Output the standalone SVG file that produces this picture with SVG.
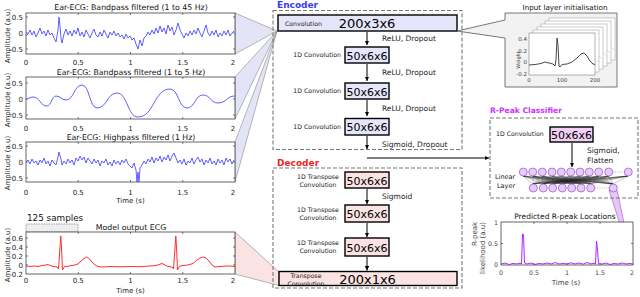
<svg xmlns="http://www.w3.org/2000/svg" width="640" height="297" viewBox="0 0 640 297">
<style>
text{font-family:'DejaVu Sans','Liberation Sans',sans-serif}
.ax{fill:#fff;stroke:#262626;stroke-width:0.7}
.tk{fill:none;stroke:#262626;stroke-width:0.6}
.tl{font-size:7px;fill:#262626}
.r{text-anchor:end}
.m{text-anchor:middle}
.ttl{font-size:7.8px;fill:#111;text-anchor:middle}
.blue{fill:none;stroke:#4d4dff;stroke-width:0.9;stroke-linejoin:round}
.red{fill:none;stroke:#ff3030;stroke-width:1;stroke-linejoin:round}
.pur{fill:none;stroke:#b026ff;stroke-width:1;stroke-linejoin:round}
.dash{fill:none;stroke:#777;stroke-width:1.1;stroke-dasharray:4 2}
.enc{fill:#e6e6fa;stroke:#000;stroke-width:1.4}
.dec{fill:#fbe3e3;stroke:#000;stroke-width:1.4}
.cls{fill:#f2d0f5;stroke:#000;stroke-width:1.4}
.big{font-size:13px;fill:#000;text-anchor:middle}
.mid{font-size:11px;fill:#000;text-anchor:middle}
.sm{font-size:6.2px;fill:#222}
.act{font-size:7.5px;fill:#222}
.arr{stroke:#000;stroke-width:1;fill:none;marker-end:url(#ah)}
.neu{fill:#e6cdf6;stroke:#9a4fd0;stroke-width:0.7}
.fanb{fill:#e4e4f7;stroke:#888;stroke-width:0.6}
.fanr{fill:#fbe3e3;stroke:#888;stroke-width:0.6}
.fanp{fill:#e8c6f5;stroke:#a050c8;stroke-width:0.6}
.fr{fill:#fff;stroke:#999;stroke-width:0.5}
</style>
<defs>
<marker id="ah" viewBox="0 0 10 10" refX="10" refY="5" markerWidth="4.5" markerHeight="4.5" orient="auto" markerUnits="userSpaceOnUse"><path d="M0,0L10,5L0,10z" fill="#000"/></marker>
<path id="kern" d="M529,65L535,64.5L541,63.5L545,62L549,63L553,64L555,66L556,60L557,38L558,45L559,66L560,67L562,64.5L567,64L572,62L577,58L581,54L584,53L587,56L590,61L593,64L595,64.5"/>
</defs>

<g id="connectors">
<polygon class="fanb" points="235,13 277,31 235,54"/>
<polygon class="fanb" points="235,77 277,31 235,119"/>
<polygon class="fanb" points="235,142 277,31 235,182"/>
<polygon class="fanr" points="235,232 279,272 279,285.5 235,274"/>
<line class="arr" x1="367" y1="32" x2="367" y2="45"/>
<line class="arr" x1="367" y1="64" x2="367" y2="81"/>
<line class="arr" x1="367" y1="100" x2="367" y2="116"/>
<line class="arr" x1="367" y1="136" x2="367" y2="149"/>
<line class="arr" x1="367" y1="158" x2="489" y2="158"/>
<line class="arr" x1="367" y1="189" x2="367" y2="204"/>
<line class="arr" x1="367" y1="223" x2="367" y2="237"/>
<line class="arr" x1="367" y1="257" x2="367" y2="270.5"/>
<line class="arr" x1="572" y1="143" x2="572" y2="167"/>
<polygon class="fanp" points="609,190 617,190 633,265"/>
</g>

<g id="plot1">
<text class="ttl" x="131" y="10">Ear-ECG: Bandpass filtered (1 to 45 Hz)</text>
<rect class="ax" x="26" y="13" width="209" height="41"/>
<path class="tk" d="M78.25,54v-2M130.5,54v-2M182.75,54v-2M78.25,13v2M130.5,13v2M182.75,13v2M26,17h2M26,33h2M26,49h2M235,17h-2M235,33h-2M235,49h-2"/>
<polyline class="blue" points="26,36 28,34 30,30 32,35 34,31 36,37 38,33 40,28 42,34 44,31 46,36 48,30 50,35 52,33 54,38 56,42 58,30 59,17 60,26 61,38 62,43 64,34 66,29 68,35 70,31 72,36 74,30 76,34 78,28 80,36 82,32 84,37 86,30 88,34 90,38 92,33 94,29 96,35 98,37 100,32 102,36 104,30 106,34 108,38 110,32 112,35 114,31 116,36 118,33 120,37 122,35 124,39 126,34 128,38 130,36 132,40 134,38 136,44 138,49 140,40 142,46 144,38 146,36 148,32 150,35 152,30 154,34 156,28 158,33 160,26 162,32 164,28 166,34 168,25 170,31 172,27 174,35 176,30 178,23 180,30 182,34 184,38 186,33 188,36 190,31 192,35 194,30 196,34 198,28 200,33 202,37 204,31 206,25 208,33 210,36 212,31 214,35 216,30 218,37 220,33 222,36 224,31 226,35 228,30 230,36 232,33 234,31"/>
<text class="tl r" x="23" y="19.5">0.5</text>
<text class="tl r" x="23" y="35.5">0</text>
<text class="tl r" x="23" y="51.5">-0.5</text>
<text class="tl m" x="26" y="64.5">0</text>
<text class="tl m" x="78.25" y="64.5">0.5</text>
<text class="tl m" x="130.5" y="64.5">1</text>
<text class="tl m" x="182.75" y="64.5">1.5</text>
<text class="tl m" x="233" y="64.5">2</text>
<text class="tl m" transform="translate(9.5,36) rotate(-90)">Amplitude (a.u)</text>
</g>

<g id="plot2">
<text class="ttl" x="131" y="75">Ear-ECG: Bandpass filtered (1 to 5 Hz)</text>
<rect class="ax" x="26" y="77" width="209" height="42"/>
<path class="tk" d="M78.25,119v-2M130.5,119v-2M182.75,119v-2M78.25,77v2M130.5,77v2M182.75,77v2M26,83h2M26,99h2M26,115h2M235,83h-2M235,99h-2M235,115h-2"/>
<path class="blue" d="M26,99C29.5,99 29.5,97 33,97C40,97 40,106 47,106C51.5,106 51.5,96 56,96C61,96 61,100 66,100C74,100 74,85 82,85C89.5,85 89.5,108 97,108C107,108 107,93 117,93C127.5,93 127.5,117 138,117C154,117 154,89 170,89C178.5,89 178.5,108 187,108C195,108 195,95 203,95C210.5,95 210.5,103 218,103C226.5,103 226.5,96 235,96"/>
<text class="tl r" x="23" y="85.5">0.5</text>
<text class="tl r" x="23" y="101.5">0</text>
<text class="tl r" x="23" y="117.5">-0.5</text>
<text class="tl m" x="26" y="130.5">0</text>
<text class="tl m" x="78.25" y="130.5">0.5</text>
<text class="tl m" x="130.5" y="130.5">1</text>
<text class="tl m" x="182.75" y="130.5">1.5</text>
<text class="tl m" x="233" y="130.5">2</text>
<text class="tl m" transform="translate(9.5,100) rotate(-90)">Amplitude (a.u)</text>
</g>

<g id="plot3">
<text class="ttl" x="131" y="140">Ear-ECG: Highpass filtered (1 Hz)</text>
<rect class="ax" x="26" y="142" width="209" height="40"/>
<path class="tk" d="M78.25,182v-2M130.5,182v-2M182.75,182v-2M78.25,142v2M130.5,142v2M182.75,142v2M26,146h2M26,162h2M26,178h2M235,146h-2M235,162h-2M235,178h-2"/>
<polyline class="blue" points="26,162 28,160 30,164 32,159 34,163 36,161 38,165 40,160 42,163 44,158 46,164 48,161 50,166 52,160 54,163 56,165 58,157 59,152 60,156 61,159 62,165 64,161 66,164 68,159 70,163 72,160 74,165 76,158 78,161 80,156 82,160 84,157 86,163 88,158 90,161 92,164 94,159 96,163 98,160 100,166 102,161 104,163 106,159 108,165 110,162 112,166 114,160 116,164 118,161 120,165 122,160 124,163 126,159 128,164 130,166 132,168 134,163 136,170 137,182 138,172 139,182 140,168 142,165 144,161 146,164 148,159 150,162 152,157 154,163 156,158 158,161 160,156 162,162 164,157 166,160 168,155 170,161 172,156 174,153 176,158 178,163 180,160 182,164 184,159 186,165 188,161 190,163 192,158 194,164 196,160 198,157 200,162 202,159 204,165 206,160 208,163 210,158 212,164 214,161 216,165 218,159 220,163 222,160 224,165 226,158 228,162 230,159 232,164 234,160"/>
<text class="tl r" x="23" y="148.5">0.5</text>
<text class="tl r" x="23" y="164.5">0</text>
<text class="tl r" x="23" y="180.5">-0.5</text>
<text class="tl m" x="26" y="194.5">0</text>
<text class="tl m" x="78.25" y="194.5">0.5</text>
<text class="tl m" x="130.5" y="194.5">1</text>
<text class="tl m" x="182.75" y="194.5">1.5</text>
<text class="tl m" x="233" y="194.5">2</text>
<text class="tl m" x="130.5" y="202.5">Time (s)</text>
<text class="tl m" transform="translate(9.5,163) rotate(-90)">Amplitude (a.u)</text>
</g>

<g id="plot4">
<text x="27" y="220.5" style="font-size:8.8px;fill:#111">125 samples</text>
<rect x="26" y="224" width="52" height="8" fill="#eee" stroke="#666" stroke-width="0.6" stroke-dasharray="1.5 1"/>
<text class="ttl" x="131" y="230">Model output ECG</text>
<rect class="ax" x="26" y="232" width="209" height="42"/>
<path class="tk" d="M78.25,274v-2M130.5,274v-2M182.75,274v-2M78.25,232v2M130.5,232v2M182.75,232v2M26,238h2M26,247h2M26,256h2M26,265h2M235,238h-2M235,247h-2M235,256h-2M235,265h-2"/>
<polyline class="red" points="26,266 30,266.5 34,266 38,266.5 42,265.5 46,265 48,264.5 50,265.5 54,266.5 57,267 58.5,269 60,247 60.8,236 61.6,250 62.5,270 63.5,268 65,266 67,266.5 69,266 72,265.5 75,265 78,264 81,261 84,258.5 86.5,257 89,258.5 92,262 95,265 98,266.5 102,267 110,266.5 120,266.8 130,266.5 140,266.7 150,266 156,265.5 159,264.5 162,263.5 165,265 168,266.5 172,267 173.5,269 175,248 175.8,236 176.6,249 177.5,270 178.5,268 180,266 183,265.5 188,265 193,263.5 197,260 200,258 203,257 206,258 209,261 212,265 215,267 220,266.5 226,266 230,266 235,266.5"/>
<text class="tl r" x="23" y="240.5">0.6</text>
<text class="tl r" x="23" y="249.5">0.4</text>
<text class="tl r" x="23" y="258.5">0.2</text>
<text class="tl r" x="23" y="267.5">0</text>
<text class="tl r" x="23" y="276.5">-0.2</text>
<text class="tl m" x="26" y="283">0</text>
<text class="tl m" x="78.25" y="283">0.5</text>
<text class="tl m" x="130.5" y="283">1</text>
<text class="tl m" x="182.75" y="283">1.5</text>
<text class="tl m" x="233" y="283">2</text>
<text class="tl m" x="130.5" y="293">Time (s)</text>
<text class="tl m" transform="translate(9.5,255) rotate(-90)">Amplitude (a.u)</text>
</g>

<g id="encoder">
<text x="277" y="8" style="font-size:9px;font-weight:bold;fill:#3a3af0">Encoder</text>
<rect class="dash" x="273" y="10.5" width="189" height="139"/>
<rect class="enc" x="278" y="15" width="179" height="16"/>
<text class="sm" x="285" y="25.5">Convolution</text>
<text class="big" x="367" y="28">200x3x6</text>
<text class="act" x="382" y="40.5">ReLU, Dropout</text>
<rect class="enc" x="345" y="47" width="44" height="16"/>
<text class="mid" x="367" y="59.5">50x6x6</text>
<text class="sm r" x="341" y="57">1D Convolution</text>
<text class="act" x="382" y="75">ReLU, Dropout</text>
<rect class="enc" x="345" y="83" width="44" height="16"/>
<text class="mid" x="367" y="95.5">50x6x6</text>
<text class="sm r" x="341" y="93">1D Convolution</text>
<text class="act" x="382" y="111">ReLU, Dropout</text>
<rect class="enc" x="345" y="118.5" width="44" height="16.5"/>
<text class="mid" x="367" y="131">50x6x6</text>
<text class="sm r" x="341" y="129">1D Convolution</text>
<text class="act" x="382" y="147">Sigmoid, Dropout</text>
</g>

<g id="decoder">
<text x="277" y="166" style="font-size:9px;font-weight:bold;fill:#ee2222">Decoder</text>
<rect class="dash" x="273" y="168" width="189" height="120"/>
<rect class="dec" x="345" y="172" width="44" height="16"/>
<text class="mid" x="367" y="184.5">50x6x6</text>
<text class="sm m" x="318" y="178.5">1D Transpose</text>
<text class="sm m" x="318" y="186.5">Convolution</text>
<text class="act" x="382" y="199">Sigmoid</text>
<rect class="dec" x="345" y="205" width="44" height="17"/>
<text class="mid" x="367" y="218">50x6x6</text>
<text class="sm m" x="318" y="212">1D Transpose</text>
<text class="sm m" x="318" y="220">Convolution</text>
<rect class="dec" x="345" y="238" width="44" height="18"/>
<text class="mid" x="367" y="251.5">50x6x6</text>
<text class="sm m" x="318" y="245">1D Transpose</text>
<text class="sm m" x="318" y="253">Convolution</text>
<rect class="dec" x="279" y="271.5" width="178" height="14"/>
<text class="sm m" x="306" y="278">Transpose</text>
<text class="sm m" x="306" y="286">Convolution</text>
<text class="big" x="367.5" y="284">200x1x6</text>
</g>

<g id="input-init">
<text x="565" y="9.5" style="font-size:7.2px;fill:#111;text-anchor:middle">Input layer initialisation</text>
<path d="M505,13H617V87H505V38L457,31L505,20Z" fill="#f2f2f2" stroke="#555" stroke-width="0.8"/>
<rect class="fr" x="549" y="18" width="66" height="42"/>
<use href="#kern" transform="translate(20,-15)" fill="none" stroke="#ccc" stroke-width="0.5"/>
<rect class="fr" x="545" y="21" width="66" height="42"/>
<use href="#kern" transform="translate(16,-12)" fill="none" stroke="#ccc" stroke-width="0.5"/>
<rect class="fr" x="541" y="24" width="66" height="42"/>
<use href="#kern" transform="translate(12,-9)" fill="none" stroke="#ccc" stroke-width="0.5"/>
<rect class="fr" x="537" y="27" width="66" height="42"/>
<use href="#kern" transform="translate(8,-6)" fill="none" stroke="#ccc" stroke-width="0.5"/>
<rect class="fr" x="533" y="30" width="66" height="42"/>
<use href="#kern" transform="translate(4,-3)" fill="none" stroke="#ccc" stroke-width="0.5"/>
<rect x="529" y="33" width="66" height="42" fill="#fff" stroke="#666" stroke-width="0.5"/>
<use href="#kern" fill="none" stroke="#333" stroke-width="0.9"/>
<g style="font-size:5.5px;fill:#444">
<text class="r" x="527" y="41">0.4</text>
<text class="r" x="527" y="53">0.2</text>
<text class="r" x="527" y="64">0</text>
<text class="r" x="527" y="76">-0.2</text>
<text class="m" x="529" y="81.5">0</text>
<text class="m" x="562" y="81.5">100</text>
<text class="m" x="595" y="81.5">200</text>
<text class="m" transform="translate(520,60) rotate(-90)" style="font-size:5px">Weight</text>
</g>
</g>

<g id="rpeak-classifier">
<text x="490" y="113" style="font-size:7.6px;font-weight:bold;fill:#cc33ff">R-Peak Classifier</text>
<rect class="dash" x="490" y="118" width="148" height="80"/>
<text class="sm" x="496" y="136">1D Convolution</text>
<rect class="cls" x="550" y="127" width="43" height="15"/>
<text class="mid" x="571.5" y="139">50x6x6</text>
<text class="act" x="587" y="152.5">Sigmoid,</text>
<text class="act" x="587" y="162.5">Flatten</text>
<text class="sm" x="495" y="178.5" style="font-size:6.5px">Linear</text>
<text class="sm" x="497" y="187.5" style="font-size:6.5px">Layer</text>
<path stroke="#000" stroke-width="0.22" fill="none" d="M523 176L533 184M523 176L543 184M523 176L553 184M523 176L562 184M523 176L572 184M523 176L581 184M523 176L591 184M523 176L613 184M533 176L533 184M533 176L543 184M533 176L553 184M533 176L562 184M533 176L572 184M533 176L581 184M533 176L591 184M533 176L613 184M542 176L533 184M542 176L543 184M542 176L553 184M542 176L562 184M542 176L572 184M542 176L581 184M542 176L591 184M542 176L613 184M552 176L533 184M552 176L543 184M552 176L553 184M552 176L562 184M552 176L572 184M552 176L581 184M552 176L591 184M552 176L613 184M561 176L533 184M561 176L543 184M561 176L553 184M561 176L562 184M561 176L572 184M561 176L581 184M561 176L591 184M561 176L613 184M571 176L533 184M571 176L543 184M571 176L553 184M571 176L562 184M571 176L572 184M571 176L581 184M571 176L591 184M571 176L613 184M580 176L533 184M580 176L543 184M580 176L553 184M580 176L562 184M580 176L572 184M580 176L581 184M580 176L591 184M580 176L613 184M589 176L533 184M589 176L543 184M589 176L553 184M589 176L562 184M589 176L572 184M589 176L581 184M589 176L591 184M589 176L613 184M599 176L533 184M599 176L543 184M599 176L553 184M599 176L562 184M599 176L572 184M599 176L581 184M599 176L591 184M599 176L613 184M609 176L533 184M609 176L543 184M609 176L553 184M609 176L562 184M609 176L572 184M609 176L581 184M609 176L591 184M609 176L613 184M628 176L533 184M628 176L543 184M628 176L553 184M628 176L562 184M628 176L572 184M628 176L581 184M628 176L591 184M628 176L613 184"/>
<path d="M613,172H624M595,188H609" stroke="#888" stroke-width="0.6" stroke-dasharray="1 1.2"/>
<circle class="neu" cx="523.3" cy="172" r="4"/>
<circle class="neu" cx="532.7" cy="172" r="4"/>
<circle class="neu" cx="542.3" cy="172" r="4"/>
<circle class="neu" cx="552" cy="172" r="4"/>
<circle class="neu" cx="561.3" cy="172" r="4"/>
<circle class="neu" cx="570.7" cy="172" r="4"/>
<circle class="neu" cx="580" cy="172" r="4"/>
<circle class="neu" cx="589.3" cy="172" r="4"/>
<circle class="neu" cx="598.7" cy="172" r="4"/>
<circle class="neu" cx="608.7" cy="172" r="4"/>
<circle class="neu" cx="628.3" cy="172" r="4"/>
<circle class="neu" cx="533.3" cy="188" r="4"/>
<circle class="neu" cx="543.3" cy="188" r="4"/>
<circle class="neu" cx="552.7" cy="188" r="4"/>
<circle class="neu" cx="562.3" cy="188" r="4"/>
<circle class="neu" cx="571.7" cy="188" r="4"/>
<circle class="neu" cx="581" cy="188" r="4"/>
<circle class="neu" cx="590.7" cy="188" r="4"/>
<circle class="neu" cx="613.3" cy="188" r="4"/>
</g>

<g id="rpeak-plot">
<text x="565" y="218.5" style="font-size:7.5px;fill:#111;text-anchor:middle">Predicted R-peak Locations</text>
<rect class="ax" x="501" y="222" width="132" height="43"/>
<path class="tk" d="M534,265v-2M567,265v-2M600,265v-2M534,222v2M567,222v2M600,222v2M501,243.5h2M633,243.5h-2"/>
<polyline class="pur" points="501,264 505,263 509,264.5 513,263.5 517,264 520,263 521.5,264 522.5,234 523.5,234.5 524.5,263 527,264 531,263 535,264.5 539,263.5 543,264 547,263 551,264 555,262.5 559,264 563,263.5 567,264 571,262.8 575,264 579,263 583,264.2 587,262.5 591,264 594,263 595.5,264 596.5,241 597.5,249 598.5,263.5 602,264 606,263 610,264.5 614,263.5 618,264 622,263 626,264 630,263.5 633,264"/>
<g style="font-size:6.3px;fill:#444">
<text class="r" x="498" y="224.5">1</text>
<text class="r" x="498" y="245.5">0.5</text>
<text class="r" x="498" y="267">0</text>
<text class="m" x="501" y="275">0</text>
<text class="m" x="534" y="275">0.5</text>
<text class="m" x="567" y="275">1</text>
<text class="m" x="600" y="275">1.5</text>
<text class="m" x="632" y="275">2</text>
<text class="m" x="566" y="284.5" style="font-size:7px">Time (s)</text>
<text class="m" transform="translate(477,234) rotate(-90)" style="font-size:7px">R-peak</text>
<text class="m" transform="translate(485,248) rotate(-90)" style="font-size:7px">likelihood (a.u)</text>
</g>
</g>
</svg>
